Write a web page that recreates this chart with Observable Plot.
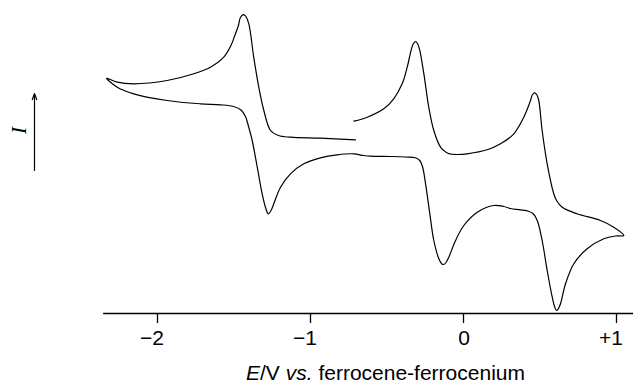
<!DOCTYPE html>
<html>
<head>
<meta charset="utf-8">
<script src="https://cdn.jsdelivr.net/npm/d3@7"></script>
<script src="https://cdn.jsdelivr.net/npm/@observablehq/plot@0.6"></script>
<style>
  html, body { margin: 0; padding: 0; background: #fff; }
  #caption { font-family: "Liberation Sans", Arial, sans-serif; font-size: 21px; line-height: 24px; padding-left: 246px; color: #000; white-space: nowrap; }
</style>
</head>
<body>
<div id="chart"></div>
<div id="caption"><i>E</i>/V <i>vs.</i> ferrocene-ferrocenium</div>
<script>
// Potential E (V vs. ferrocene-ferrocenium), in scan order
const potential = [
  -0.706,-0.935,-1.131,-1.209,-1.261,-1.305,-1.338,-1.371,-1.403,-1.422,-1.438,-1.458,-1.471,-1.497,-1.520,-1.567,-1.654,-1.763,-1.937,-2.155,-2.263,-2.333,
  -2.263,-2.155,-1.937,-1.719,-1.588,-1.503,-1.454,-1.425,-1.405,-1.381,-1.348,-1.316,-1.294,-1.276,-1.258,-1.240,-1.196,-1.131,-1.044,-0.935,-0.825,-0.717,-0.654,-0.608,-0.477,-0.379,-0.314,-0.286,-0.268,-0.248,-0.220,-0.194,-0.161,-0.144,-0.129,-0.114,-0.096,-0.052,0.002,0.090,0.198,0.263,0.307,0.373,0.425,0.454,0.482,0.514,0.547,0.580,0.595,0.608,0.621,0.634,0.667,0.721,0.808,0.917,0.993,1.048,
  0.982,0.895,0.743,0.645,0.608,0.590,0.547,0.514,0.492,0.480,0.466,0.451,0.438,0.394,0.329,0.242,0.155,0.024,-0.041,-0.098,-0.129,-0.150,-0.194,-0.227,-0.259,-0.288,-0.301,-0.314,-0.327,-0.340,-0.368,-0.401,-0.456,-0.521,-0.629,-0.717
];
// Current I (arbitrary units), same order
const current = [
  2.57,2.73,2.83,3.0,3.5,5.5,7.83,10.83,14.17,14.9,15.08,14.8,14.0,12.9,12.0,10.83,9.83,9.17,8.5,8.17,8.33,8.73,
  7.83,7.17,6.5,6.17,6.07,5.9,5.55,4.9,3.9,2.5,-0.17,-2.83,-4.2,-4.83,-4.5,-3.83,-2.17,-0.83,0.17,0.77,1.07,1.17,1.0,0.93,0.9,0.85,0.77,0.5,-0.1,-1.83,-4.83,-7.5,-9.33,-9.8,-9.9,-9.7,-9.17,-7.5,-6.0,-4.67,-4.0,-4.1,-4.3,-4.43,-4.57,-4.8,-5.5,-7.5,-10.5,-13.17,-14.1,-14.5,-14.3,-13.83,-11.83,-9.83,-8.33,-7.33,-7.05,-7.0,
  -6.17,-5.5,-4.83,-4.17,-3.5,-2.83,0.17,3.5,6.5,7.05,7.27,7.1,6.5,4.83,3.17,2.17,1.57,1.17,1.1,1.2,1.5,1.83,3.5,5.83,9.17,11.67,12.2,12.4,12.2,11.67,9.83,8.17,6.67,5.67,4.83,4.43
];
const xTicks = [-2, -1, 0, 1];
const xTickLabels = ["\u22122", "\u22121", "0", "+1"];
// Current-direction arrow annotation and its label
const currentArrow = [{x1: -2.804, y1: -0.5, x2: -2.804, y2: 7.2}];
const currentLabel = [{x: -2.902, y: 3.5, text: "I"}];

const data = potential.map((e, i) => ({E: e, I: current[i]}));

const chart = Plot.plot({
  width: 633,
  height: 361,
  marginLeft: 103.45,
  marginRight: 0.17,
  marginTop: 0,
  marginBottom: 48,
  style: {fontFamily: "'Liberation Sans', Arial, sans-serif", background: "#fff", color: "#000"},
  x: {domain: [-2.35, 1.11]},
  y: {domain: [-14.8, 16.5], axis: null},
  marks: [
    Plot.frame({anchor: "bottom", stroke: "#000", strokeWidth: 1.6}),
    Plot.axisX(xTicks, {tickSize: 10, strokeWidth: 1.3, stroke: "#000", tickFormat: () => "", label: null}),
    Plot.axisX(xTicks, {
      tickSize: 0, tickPadding: 17, fontSize: 21,
      tickFormat: d => xTickLabels[xTicks.indexOf(d)],
      textAnchor: "end", dx: 6.5, label: null, fill: "#000"
    }),
    Plot.line(data, {x: "E", y: "I", stroke: "#000", strokeWidth: 1.2, curve: "catmull-rom"}),
    Plot.arrow(currentArrow, {x1: "x1", y1: "y1", x2: "x2", y2: "y2", stroke: "#000", strokeWidth: 1.2, headLength: 8, headAngle: 40}),
    Plot.text(currentLabel, {x: "x", y: "y", text: "text", rotate: -90, fontSize: 21, fontStyle: "italic", fontFamily: "'Liberation Serif', 'Times New Roman', serif", fill: "#000"})
  ]
});
document.getElementById("chart").appendChild(chart);
</script>
</body>
</html>
